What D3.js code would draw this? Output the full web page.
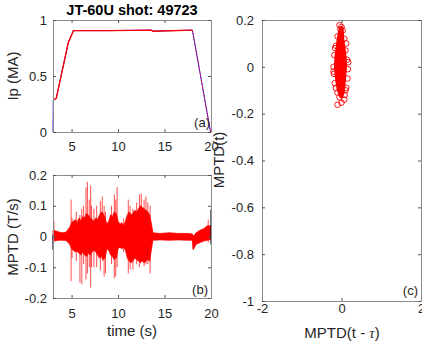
<!DOCTYPE html>
<html>
<head>
<meta charset="utf-8">
<script src="https://cdn.jsdelivr.net/npm/d3@7"></script>
<style>
  body { margin: 0; background: #fff; }
  svg { display: block; font-family: "Liberation Sans", Arial, sans-serif; }
</style>
</head>
<body>
<svg id="chart" width="422" height="347"></svg>
<script>
// ---- panel (a): plasma current
const ipT = [3.0, 3.03, 3.35, 4.0, 4.65, 5.2, 9.0, 13.6, 13.7, 18.0, 19.95];
const ipV = [0.0, 0.286, 0.30, 0.55, 0.80, 0.905, 0.905, 0.91, 0.90, 0.91, 0.0];

// ---- panel (b): MPTD signal, bulk envelope + spikes
const tBulk = [3.0, 3.3, 3.6, 4.0, 4.4, 4.8,
  5.0, 5.2, 5.4, 5.6, 5.8, 6.0, 6.2, 6.4, 6.6, 6.8,
  7.0, 7.2, 7.4, 7.6, 7.8, 8.0, 8.2, 8.4, 8.6, 8.8,
  9.0, 9.2, 9.4, 9.6, 9.8, 10.0, 10.2, 10.4, 10.6, 10.8,
  11.0, 11.2, 11.4, 11.6, 11.8, 12.0, 12.2, 12.4, 12.6, 12.8,
  13.0, 13.2, 13.4, 13.6, 13.75, 14.5, 15.5, 16.5, 17.5,
  18.0, 18.1, 18.4, 18.8, 19.2, 19.6, 20.0];
const hiBulk = [0.02, 0.018, 0.015, 0.012, 0.014, 0.03,
  0.045, 0.05, 0.055, 0.045, 0.06, 0.05, 0.065, 0.06, 0.075, 0.07,
  0.06, 0.055, 0.05, 0.06, 0.055, 0.07, 0.08, 0.075, 0.06, 0.04,
  0.05, 0.07, 0.065, 0.08, 0.075, 0.05, 0.04, 0.045, 0.035, 0.05,
  0.07, 0.08, 0.07, 0.075, 0.085, 0.08, 0.09, 0.1, 0.095, 0.09,
  0.085, 0.08, 0.07, 0.04, 0.012, 0.01, 0.012, 0.01, 0.01,
  0.008, 0.0, 0.012, 0.02, 0.025, 0.035, 0.035];
const loBulk = [-0.012, -0.014, -0.012, -0.012, -0.013, -0.025,
  -0.04, -0.045, -0.05, -0.048, -0.055, -0.06, -0.05, -0.06, -0.065, -0.055,
  -0.06, -0.05, -0.045, -0.05, -0.06, -0.07, -0.065, -0.075, -0.07, -0.04,
  -0.045, -0.06, -0.065, -0.075, -0.07, -0.04, -0.035, -0.04, -0.035, -0.045,
  -0.07, -0.08, -0.085, -0.08, -0.07, -0.075, -0.08, -0.085, -0.08, -0.085,
  -0.08, -0.075, -0.08, -0.04, -0.012, -0.011, -0.012, -0.011, -0.012,
  -0.012, -0.042, -0.025, -0.02, -0.015, -0.012, -0.01];

const spT  = [3.1, 4.95, 5.05, 5.5, 5.9, 6.1, 6.3, 6.55, 6.7, 6.9, 7.05, 7.15, 7.4, 7.7,
  8.1, 8.3, 8.5, 8.65, 9.3, 9.6, 9.75, 9.9, 10.6, 11.1, 11.3, 11.6, 12.0, 12.3, 12.5,
  12.8, 13.0, 13.2, 13.45, 18.05, 19.7];
const spHi = [0.05, 0.12, 0.06, 0.08, 0.07, 0.09, 0.1, 0.16, 0.178, 0.12, 0.165, 0.1, 0.09, 0.1,
  0.115, 0.13, 0.1, 0.08, 0.1, 0.137, 0.12, 0.16, 0.06, 0.12, 0.1, 0.09, 0.11, 0.137, 0.14,
  0.12, 0.13, 0.11, 0.1, 0.005, 0.055];
const spLo = [-0.02, -0.145, -0.07, -0.08, -0.15, -0.155, -0.09, -0.14, -0.12, -0.1, -0.166, -0.1, -0.1, -0.1,
  -0.11, -0.08, -0.13, -0.12, -0.09, -0.135, -0.13, -0.1, -0.05, -0.12, -0.107, -0.107, -0.09, -0.1, -0.08,
  -0.097, -0.09, -0.09, -0.12, -0.042, -0.02];

// dark raw-trace bits at both ends of (b)
const edgeT  = [3.0, 20.0];
const edgeHi = [0.006, 0.088];
const edgeLo = [-0.042, -0.026];

// ---- panel (c): return map MPTD(t) vs MPTD(t - tau)
const coreY = [0.17, 0.15, 0.12, 0.08, 0.04, 0.0, -0.04, -0.08, -0.11, -0.13];
const coreL = [-0.03, -0.07, -0.1, -0.13, -0.16, -0.17, -0.15, -0.12, -0.08, -0.03];
const coreR = [0.02, 0.04, 0.05, 0.08, 0.11, 0.12, 0.1, 0.08, 0.06, 0.02];
const scX = [-0.05, 0.0, -0.03, 0.03, -0.1, 0.07, -0.14, 0.1, -0.18, 0.14, -0.2, 0.16, -0.19, 0.15,
  -0.17, 0.12, -0.1, 0.08, -0.1, 0.0, 0.07, -0.05, 0.12, -0.16, -0.2, 0.17, -0.14, 0.1];
const scY = [0.178, 0.17, 0.16, 0.155, 0.13, 0.12, 0.09, 0.07, 0.05, 0.03, 0.0, -0.01, -0.03, -0.05,
  -0.07, -0.09, -0.11, -0.12, -0.162, -0.153, -0.14, -0.13, 0.1, 0.08, -0.02, 0.02, -0.09, -0.1];

const svg = d3.select('#chart');
const red = '#ff0000';

function frame(x, y, xt, yt, padX, padY) {
  const g = svg.append('g');
  const [y0, y1] = y.range();
  const [x0, x1] = x.range();
  g.append('g').attr('transform', `translate(0,${y0})`)
    .call(d3.axisBottom(x).tickValues(xt).tickSize(-3).tickSizeOuter(0).tickPadding(padX).tickFormat(d => String(d)));
  g.append('g').attr('transform', `translate(0,${y1})`)
    .call(d3.axisTop(x).tickValues(xt).tickSize(-3).tickSizeOuter(0).tickFormat(''));
  g.append('g').attr('transform', `translate(${x0},0)`)
    .call(d3.axisLeft(y).tickValues(yt).tickSize(-3).tickSizeOuter(0).tickPadding(padY).tickFormat(d => String(d)));
  g.append('g').attr('transform', `translate(${x1},0)`)
    .call(d3.axisRight(y).tickValues(yt).tickSize(-3).tickSizeOuter(0).tickFormat(''));
  g.selectAll('.domain').attr('stroke', '#8c8c8c');
  g.selectAll('.tick line').attr('stroke', '#555');
  g.selectAll('.tick text').attr('fill', '#262626').style('font-size', '13px')
    .style('font-family', '"Liberation Sans", Arial, sans-serif');
  return g;
}

function label(txt, x, y, opts = {}) {
  const t = svg.append('text').attr('x', x).attr('y', y)
    .attr('text-anchor', opts.anchor || 'middle')
    .attr('fill', opts.fill || '#262626')
    .style('font-size', (opts.size || 15) + 'px')
    .style('font-weight', opts.bold ? 'bold' : 'normal')
    .text(txt);
  if (opts.rot) t.attr('transform', `rotate(-90,${x},${y})`);
  return t;
}

// ---------- (a)
const xa = d3.scaleLinear().domain([3, 20]).range([53, 211]);
const ya = d3.scaleLinear().domain([0, 1]).range([132, 20]);
const ipData = ipT.map((t, i) => ({ t, v: ipV[i] }));
const lineA = d3.line().x(d => xa(d.t)).y(d => ya(d.v));
svg.append('path').datum(ipData).attr('d', lineA)
  .attr('fill', 'none').attr('stroke', '#2020ff').attr('stroke-width', 1);
svg.append('path').datum(ipData.slice(1, -1)).attr('d', lineA)
  .attr('fill', 'none').attr('stroke', red).attr('stroke-width', 1.4);
svg.append('path').datum(ipData.slice(-2)).attr('d', lineA)
  .attr('fill', 'none').attr('stroke', red).attr('stroke-width', 1).attr('stroke-dasharray', '1.5,1.5');
frame(xa, ya, [5, 10, 15, 20], [0, 0.5, 1], 10, 6);

// ---------- (b)
const xb = d3.scaleLinear().domain([3, 20]).range([53, 211]);
const yb = d3.scaleLinear().domain([-0.2, 0.2]).range([298, 175]);
const bulk = tBulk.map((t, i) => ({ t, hi: hiBulk[i], lo: loBulk[i] }));
svg.append('path').datum(bulk)
  .attr('d', d3.area().x(d => xb(d.t)).y0(d => yb(d.lo)).y1(d => yb(d.hi)))
  .attr('fill', red).attr('stroke', red).attr('stroke-width', 0.8);
svg.append('g').selectAll('line').data(spT).join('line')
  .attr('x1', d => xb(d)).attr('x2', d => xb(d))
  .attr('y1', (d, i) => yb(spLo[i])).attr('y2', (d, i) => yb(spHi[i]))
  .attr('stroke', red).attr('stroke-opacity', 0.7).attr('stroke-width', 1);
svg.append('g').selectAll('line').data(edgeT).join('line')
  .attr('x1', d => xb(d)).attr('x2', d => xb(d))
  .attr('y1', (d, i) => yb(edgeLo[i])).attr('y2', (d, i) => yb(edgeHi[i]))
  .attr('stroke', '#1a1a2a').attr('stroke-width', 1.2);
frame(xb, yb, [5, 10, 15, 20], [-0.2, -0.1, 0, 0.1, 0.2], 11, 6);

// ---------- (c)
const xc = d3.scaleLinear().domain([-2, 2]).range([262, 421]);
const yc = d3.scaleLinear().domain([-1, 0.2]).range([301, 20]);
const core = coreY.map((y, i) => ({ y, l: coreL[i], r: coreR[i] }));
svg.append('path').datum(core)
  .attr('d', d3.area().y(d => yc(d.y)).x0(d => xc(d.l)).x1(d => xc(d.r)).curve(d3.curveCatmullRom))
  .attr('fill', red).attr('stroke', red).attr('stroke-width', 1.5);
svg.append('g').selectAll('circle').data(scX).join('circle')
  .attr('cx', d => xc(d)).attr('cy', (d, i) => yc(scY[i])).attr('r', 2.8)
  .attr('fill', 'none').attr('stroke', red).attr('stroke-width', 0.9);
frame(xc, yc, [-2, 0, 2], [-1, -0.8, -0.6, -0.4, -0.2, 0, 0.2], 3, 8);

// ---------- texts
label('JT-60U shot: 49723', 132, 15, { size: 14.5, bold: true, fill: '#000' });
label('Ip (MA)', 18, 76, { rot: true });
label('MPTD (T/s)', 18, 237, { rot: true });
label('time (s)', 132, 336);
label('MPTD(t)', 224, 160, { rot: true });
const xl = label('MPTD(t - ', 342, 338);
xl.append('tspan').style('font-family', '"Liberation Serif", serif').style('font-style', 'italic').text('τ');
xl.append('tspan').text(')');
label('(a)', 210, 127, { anchor: 'end', size: 13 });
label('(b)', 208, 294, { anchor: 'end', size: 13 });
label('(c)', 418, 295, { anchor: 'end', size: 13 });
</script>
</body>
</html>
